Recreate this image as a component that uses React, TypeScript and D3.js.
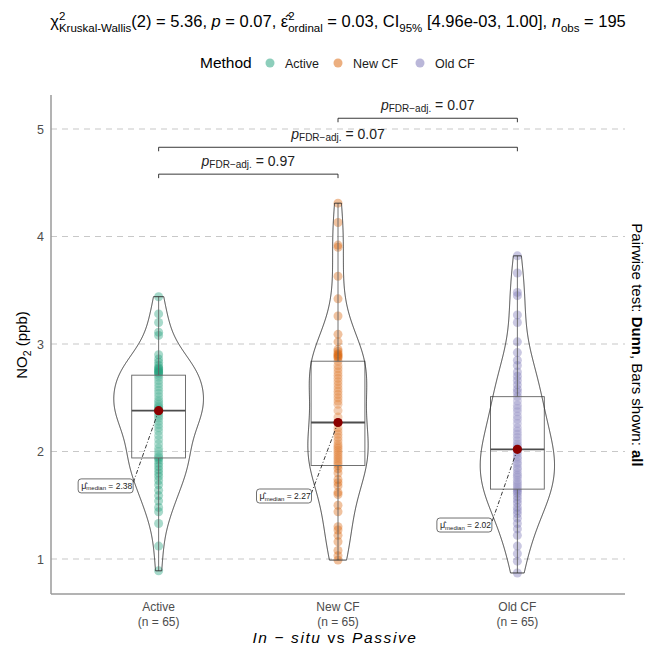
import React from 'react';
import * as d3 from 'd3';

const methods = ['Active', 'New CF', 'Old CF'];
const colors = ['#1B9E77', '#D95F02', '#7570B3'];
const groupN = [65, 65, 65];

const activeValues = [
  3.44, 3.28, 3.20, 3.11, 3.08, 2.90, 2.86, 2.83, 2.80, 2.78, 2.77, 2.76, 2.75, 2.74, 2.73, 2.73,
  2.71, 2.69, 2.66, 2.63, 2.60, 2.57, 2.54, 2.51, 2.48, 2.46, 2.44, 2.42, 2.41, 2.40, 2.39, 2.39,
  2.38,
  2.37, 2.35, 2.33, 2.31, 2.28, 2.25, 2.22, 2.19, 2.15, 2.11, 2.07, 2.03, 2.00, 1.97, 1.95, 1.94,
  1.92, 1.89, 1.86, 1.83, 1.80, 1.77, 1.73, 1.69, 1.64, 1.59, 1.54, 1.48, 1.44, 1.33, 1.12, 0.89,
];
const newCFValues = [
  4.31, 4.13, 3.92, 3.90, 3.63, 3.42, 3.26, 3.09, 3.02, 2.95, 2.93, 2.91, 2.90, 2.89, 2.88, 2.87,
  2.84, 2.80, 2.77, 2.74, 2.71, 2.68, 2.65, 2.62, 2.59, 2.56, 2.53, 2.50, 2.47, 2.44, 2.38, 2.32,
  2.27,
  2.22, 2.19, 2.16, 2.13, 2.10, 2.07, 2.05, 2.03, 2.01, 1.99, 1.97, 1.95, 1.93, 1.91, 1.89, 1.87,
  1.84, 1.80, 1.74, 1.71, 1.68, 1.62, 1.60, 1.50, 1.44, 1.30, 1.27, 1.22, 1.16, 1.08, 1.03, 0.99,
];
const oldCFValues = [
  3.82, 3.66, 3.48, 3.45, 3.27, 3.20, 3.02, 2.92, 2.85, 2.80, 2.74, 2.70, 2.66, 2.62, 2.58, 2.55,
  2.51, 2.47, 2.43, 2.40, 2.37, 2.33, 2.30, 2.26, 2.22, 2.19, 2.16, 2.13, 2.10, 2.07, 2.05, 2.03,
  2.02,
  2.00, 1.98, 1.95, 1.93, 1.90, 1.88, 1.85, 1.83, 1.80, 1.78, 1.76, 1.73, 1.71, 1.69, 1.67, 1.65,
  1.63, 1.61, 1.58, 1.55, 1.52, 1.48, 1.45, 1.42, 1.38, 1.33, 1.28, 1.22, 1.12, 1.05, 0.98, 0.87,
];
const groupValues = [activeValues, newCFValues, oldCFValues];

const yTicks = [1, 2, 3, 4, 5];
const pairFrom = [0, 0, 1];
const pairTo = [1, 2, 2];
const pairY = [4.58, 4.83, 5.1];
const pairP = ['0.97', '0.07', '0.07'];

// label placement (repel result) relative to category: dx px, y in data units
const labelDx = [-53, -54, -53];
const labelY = [1.68, 1.586, 1.316];

const FONT = 'Liberation Sans, Arial, Helvetica, sans-serif';
const W = 646;
const H = 645;
const panel = { left: 51, right: 625, top: 95, bottom: 594 };

function nrd0(v: number[]) {
  const s = [...v].sort(d3.ascending);
  const sd = d3.deviation(s) as number;
  const iqr = (d3.quantile(s, 0.75) as number) - (d3.quantile(s, 0.25) as number);
  let lo = Math.min(sd, iqr / 1.34);
  if (!lo) lo = sd || 1;
  return 0.9 * lo * Math.pow(s.length, -0.2);
}

function kde(v: number[]) {
  const bw = nrd0(v);
  const lo = d3.min(v) as number;
  const hi = d3.max(v) as number;
  const n = 512;
  const pts: { y: number; d: number }[] = [];
  for (let i = 0; i < n; i++) {
    const y = lo + ((hi - lo) * i) / (n - 1);
    const d =
      (d3.mean(v, (x) => Math.exp(-0.5 * ((y - x) / bw) ** 2) / Math.sqrt(2 * Math.PI)) as number) / bw;
    pts.push({ y, d });
  }
  return pts;
}

export default function App() {
  const x = d3.scalePoint<string>().domain(methods).range([panel.left, panel.right]).padding(0.6);
  const step = x.step();
  const y = d3.scaleLinear().domain([1, 5]).range([559, 129]);

  const dens = groupValues.map(kde);
  const maxD = d3.max(dens, (g) => d3.max(g, (p) => p.d)) as number;
  const violinWidth = 0.5; // in category steps
  const boxWidth = 0.3;

  const stats = groupValues.map((v) => {
    const s = [...v].sort(d3.ascending);
    return {
      q1: d3.quantile(s, 0.25) as number,
      med: d3.quantile(s, 0.5) as number,
      q3: d3.quantile(s, 0.75) as number,
      min: s[0],
      max: s[s.length - 1],
    };
  });

  const line = d3.line<[number, number]>();

  return (
    <svg width={W} height={H} style={{ display: 'block', position: 'absolute', left: 0, top: 0 }} fontFamily={FONT}>
      <rect x={0} y={0} width={W} height={H} fill="#ffffff" />
      {/* Title */}
      <text x={338} y={27} textAnchor="middle" fontSize={16.5} fill="#000">
        <tspan>χ</tspan>
        <tspan fontSize={11.5} dy={-7.5}>2</tspan>
        <tspan fontSize={11.5} dx={-6.4} dy={12}>Kruskal-Wallis</tspan>
        <tspan dy={-4.5}>(2) = 5.36, </tspan>
        <tspan fontStyle="italic">p</tspan>
        <tspan> = 0.07, </tspan>
        <tspan>ε̂</tspan>
        <tspan fontSize={11.5} dy={-7.5}>2</tspan>
        <tspan fontSize={11.5} dx={-6.4} dy={12}>ordinal</tspan>
        <tspan dy={-4.5}> = 0.03, CI</tspan>
        <tspan fontSize={11.5} dy={4.5}>95%</tspan>
        <tspan dy={-4.5}> [4.96e-03, 1.00], </tspan>
        <tspan fontStyle="italic">n</tspan>
        <tspan fontSize={11.5} dy={4.5}>obs</tspan>
        <tspan dy={-4.5}> = 195</tspan>
      </text>

      {/* Legend */}
      <text x={200} y={68} fontSize={15.5} fill="#000">Method</text>
      {methods.map((m, i) => {
        const lx = [270, 338, 420][i];
        return (
          <g key={m}>
            <circle cx={lx} cy={63} r={4.5} fill={colors[i]} fillOpacity={0.5} />
            <text x={lx + 15} y={67.5} fontSize={12.5} fill="#1a1a1a">{m}</text>
          </g>
        );
      })}

      {/* gridlines */}
      {yTicks.map((t) => (
        <line key={t} x1={panel.left} x2={panel.right} y1={y(t)} y2={y(t)} stroke="#c8c8c8" strokeWidth={1.2} strokeDasharray="6,5" />
      ))}

      {/* axes */}
      <line x1={panel.left} x2={panel.left} y1={panel.top} y2={panel.bottom} stroke="#9a9a9a" strokeWidth={1.5} />
      <line x1={panel.left} x2={panel.right} y1={panel.bottom} y2={panel.bottom} stroke="#9a9a9a" strokeWidth={1.5} />
      {yTicks.map((t) => (
        <text key={t} x={44} y={y(t) + 4.5} textAnchor="end" fontSize={12.5} fill="#4d4d4d">{t}</text>
      ))}
      {methods.map((m, i) => (
        <g key={m}>
          <text x={x(m)} y={611} textAnchor="middle" fontSize={12} fill="#4d4d4d">{m}</text>
          <text x={x(m)} y={626} textAnchor="middle" fontSize={12} fill="#4d4d4d">(n = {groupN[i]})</text>
        </g>
      ))}
      <text x={335} y={643} textAnchor="middle" fontSize={15.5} fill="#000" letterSpacing={1.6}>
        <tspan fontStyle="italic">In</tspan>
        <tspan> − </tspan>
        <tspan fontStyle="italic">situ</tspan>
        <tspan>  vs  </tspan>
        <tspan fontStyle="italic">Passive</tspan>
      </text>
      <text transform="translate(27,345) rotate(-90)" textAnchor="middle" fontSize={15} fill="#000">
        <tspan>NO</tspan>
        <tspan fontSize={10.5} dy={4}>2</tspan>
        <tspan dy={-4}> (ppb)</tspan>
      </text>
      <text transform="translate(632,345) rotate(90)" textAnchor="middle" fontSize={15} fill="#000">
        <tspan>Pairwise test: </tspan>
        <tspan fontWeight="bold">Dunn</tspan>
        <tspan>, Bars shown: </tspan>
        <tspan fontWeight="bold">all</tspan>
      </text>

      {/* points */}
      {groupValues.map((v, i) => (
        <g key={'p' + i}>
          {v.map((val, j) => (
            <circle key={j} cx={x(methods[i])} cy={y(val)} r={4.5} fill={colors[i]} fillOpacity={0.4} />
          ))}
        </g>
      ))}

      {/* boxplots */}
      {stats.map((s, i) => {
        const cx = x(methods[i]) as number;
        const hw = (boxWidth * step) / 2;
        return (
          <g key={'b' + i}>
            <line x1={cx} x2={cx} y1={y(s.q3)} y2={y(s.max)} stroke="#5a5a5a" strokeWidth={0.9} />
            <line x1={cx} x2={cx} y1={y(s.q1)} y2={y(s.min)} stroke="#5a5a5a" strokeWidth={0.9} />
            <rect x={cx - hw} y={y(s.q3)} width={2 * hw} height={y(s.q1) - y(s.q3)} fill="#ffffff" fillOpacity={0.2} stroke="#5a5a5a" strokeWidth={0.9} />
            <line x1={cx - hw} x2={cx + hw} y1={y(s.med)} y2={y(s.med)} stroke="#444" strokeWidth={1.8} />
          </g>
        );
      })}

      {/* violins */}
      {dens.map((g, i) => {
        const cx = x(methods[i]) as number;
        const hwMax = (violinWidth * step) / 2;
        const right: [number, number][] = g.map((p) => [cx + (p.d / maxD) * hwMax, y(p.y)]);
        const left: [number, number][] = g.map((p) => [cx - (p.d / maxD) * hwMax, y(p.y)]).reverse();
        return (
          <path key={'v' + i} d={(line([...right, ...left]) as string) + 'Z'} fill="#ffffff" fillOpacity={0.05} stroke="#2b2b2b" strokeWidth={0.9} />
        );
      })}

      {/* median labels */}
      {stats.map((s, i) => {
        const cx = x(methods[i]) as number;
        const lx = cx + labelDx[i];
        const ly = y(labelY[i]);
        const bw = 55;
        const bh = 14;
        return (
          <g key={'m' + i}>
            <line x1={cx} y1={y(s.med)} x2={lx + bw / 2} y2={ly - 3} stroke="#222" strokeWidth={0.9} strokeDasharray="4,2,1,2" />
            <rect x={lx - bw / 2} y={ly - bh / 2} width={bw} height={bh} rx={3} fill="#ffffff" stroke="#333" strokeWidth={0.7} />
            <text x={lx - bw / 2 + 3} y={ly + 3} fontSize={8.5} fill="#222">
              <tspan fontSize={9}>μ̂</tspan>
              <tspan fontSize={6} dy={1.5}>median</tspan>
              <tspan dy={-1.5}> = {s.med.toFixed(2)}</tspan>
            </text>
            <circle cx={cx} cy={y(s.med)} r={4.6} fill="#8B0000" />
          </g>
        );
      })}

      {/* pairwise brackets */}
      {pairFrom.map((f, k) => {
        const x1 = x(methods[f]) as number;
        const x2 = x(methods[pairTo[k]]) as number;
        const yy = y(pairY[k]);
        return (
          <g key={'br' + k}>
            <path d={`M${x1},${yy + 4}V${yy}H${x2}V${yy + 4}`} fill="none" stroke="#222" strokeWidth={0.9} />
            <text x={(x1 + x2) / 2} y={yy - 8} textAnchor="middle" fontSize={14} fill="#222">
              <tspan fontStyle="italic">p</tspan>
              <tspan fontSize={10} dy={2}>FDR−adj.</tspan>
              <tspan dy={-2}> = {pairP[k]}</tspan>
            </text>
          </g>
        );
      })}
    </svg>
  );
}
